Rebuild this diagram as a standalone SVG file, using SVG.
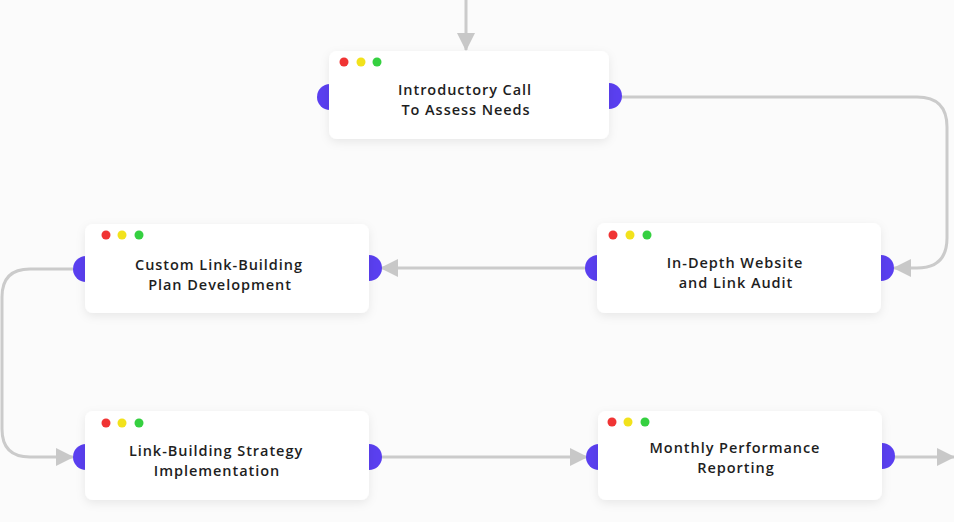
<svg xmlns="http://www.w3.org/2000/svg" width="954" height="522" viewBox="0 0 954 522">
<defs>
<filter id="sh" x="-20%" y="-30%" width="140%" height="160%">
<feDropShadow dx="0" dy="3" stdDeviation="5" flood-color="#000" flood-opacity="0.08"/>
</filter>
<marker id="ah" viewBox="0 0 18 18" refX="17" refY="9" markerWidth="18" markerHeight="18" markerUnits="userSpaceOnUse" orient="auto">
<path d="M0,0 L18,9 L0,18 Z" fill="#c8c8c8"/>
</marker>
</defs>
<style>
.card{fill:#ffffff;filter:url(#sh)}
.port{fill:#5a3ff0}
.r{fill:#f03434}.y{fill:#f2e21c}.g{fill:#35d040}
.t{font-family:"Open Sans",Inter,sans-serif;font-size:14.5px;font-weight:600;letter-spacing:0.95px;fill:#1e1e1e;text-anchor:middle}
.c{fill:none;stroke:#cbcbcb;stroke-width:3}
</style>
<rect width="954" height="522" fill="#fbfbfb"/>
<g id="connectors">
<path class="c" d="M466,0 V50" marker-end="url(#ah)"/>
<path class="c" d="M622,97 H917 Q947,97 947,127 V238 Q947,268 917,268 H894" marker-end="url(#ah)"/>
<path class="c" d="M587,268 H381" marker-end="url(#ah)"/>
<path class="c" d="M73,269 H30 Q2,269 2,297 V429 Q2,457 30,457 H73" marker-end="url(#ah)"/>
<path class="c" d="M381,457 H587" marker-end="url(#ah)"/>
<path class="c" d="M894,457 H954" marker-end="url(#ah)"/>
</g>
<g id="node1">
<circle class="port" cx="330" cy="97" r="13"/><circle class="port" cx="609" cy="96" r="13"/>
<rect class="card" x="329" y="51" width="280" height="88" rx="8"/>
<circle class="r" cx="344" cy="62" r="4.5"/><circle class="y" cx="361" cy="62" r="4.5"/><circle class="g" cx="377" cy="62" r="4.5"/>
<text class="t"><tspan x="465" y="95">Introductory Call</tspan><tspan x="466" y="115">To Assess Needs</tspan></text>
</g>
<g id="node2">
<circle class="port" cx="598" cy="268" r="13"/><circle class="port" cx="881" cy="268" r="13"/>
<rect class="card" x="597" y="223" width="284" height="90" rx="8"/>
<circle class="r" cx="613" cy="235" r="4.5"/><circle class="y" cx="630" cy="235" r="4.5"/><circle class="g" cx="647" cy="235" r="4.5"/>
<text class="t"><tspan x="735" y="268">In-Depth Website</tspan><tspan x="736" y="288">and Link Audit</tspan></text>
</g>
<g id="node3">
<circle class="port" cx="86" cy="269" r="13"/><circle class="port" cx="369" cy="268" r="13"/>
<rect class="card" x="85" y="224" width="284" height="89" rx="8"/>
<circle class="r" cx="106" cy="235" r="4.5"/><circle class="y" cx="122" cy="235" r="4.5"/><circle class="g" cx="139" cy="235" r="4.5"/>
<text class="t"><tspan x="219" y="270">Custom Link-Building</tspan><tspan x="220" y="290">Plan Development</tspan></text>
</g>
<g id="node4">
<circle class="port" cx="86" cy="457" r="13"/><circle class="port" cx="369" cy="457" r="13"/>
<rect class="card" x="85" y="411" width="284" height="89" rx="8"/>
<circle class="r" cx="106" cy="423" r="4.5"/><circle class="y" cx="122" cy="423" r="4.5"/><circle class="g" cx="139" cy="423" r="4.5"/>
<text class="t"><tspan x="216" y="456">Link-Building Strategy</tspan><tspan x="217" y="476">Implementation</tspan></text>
</g>
<g id="node5">
<circle class="port" cx="599" cy="457" r="13"/><circle class="port" cx="882" cy="456" r="13"/>
<rect class="card" x="598" y="411" width="284" height="89" rx="8"/>
<circle class="r" cx="612" cy="422" r="4.5"/><circle class="y" cx="628" cy="422" r="4.5"/><circle class="g" cx="645" cy="422" r="4.5"/>
<text class="t"><tspan x="735" y="453">Monthly Performance</tspan><tspan x="736" y="473">Reporting</tspan></text>
</g>
</svg>
